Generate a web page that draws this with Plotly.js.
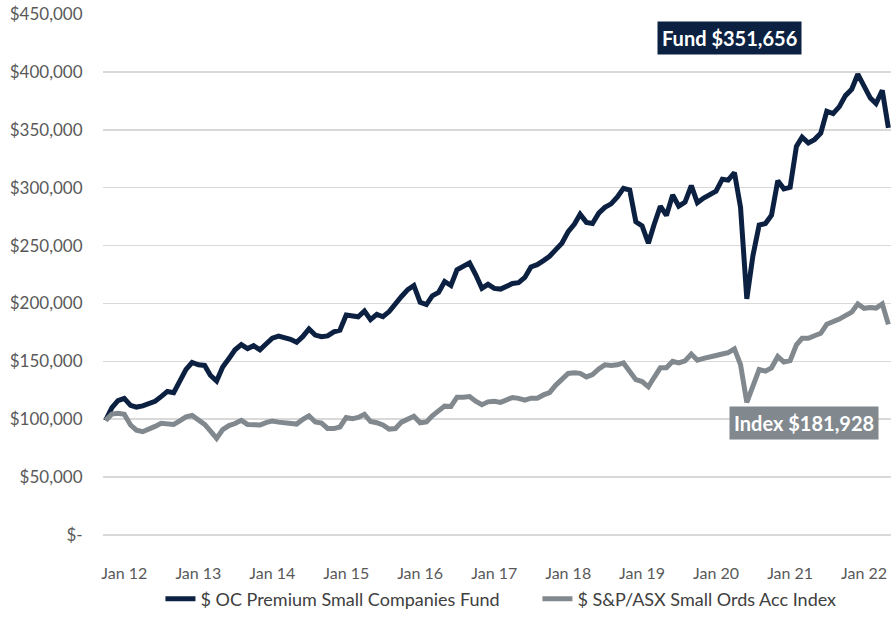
<!DOCTYPE html>
<html>
<head>
<meta charset="utf-8">
<script src="https://cdn.plot.ly/plotly-3.0.1.min.js"></script>
<style>html,body{margin:0;padding:0;background:#fff;}#chart{width:893px;height:620px;}</style>
</head>
<body>
<div id="chart"></div>
<script>
// Values in $ thousands, monthly from Oct 2011
const startYear = 2011, startMonth = 10;
const fundValues = [
 99,110,116,118,112,110.5,111.5,113.5,115.5,119.5,
 124,123,134,143,149,147,146.5,138,133,145,
 152.5,160,164.5,161,163.5,160,165,170,171.8,170.5,
 169,166.5,171.5,178,172.7,171.3,172,175.5,177,190,
 189,188.5,193.5,186,190.5,188.5,193,200,206,212,
 215.5,201,199,206.5,209.5,219,215.5,229,232,235,
 225,213,216.5,213,212.4,214.5,217.2,218,222.5,231.5,
 233.5,237,240.7,246.5,252,262,268.6,277,270,269,
 278,283,286,292,299.4,298,270.5,267,252,268,
 284,276,293.7,284,287.5,301.7,287,291,294.5,297,
 307.3,306.5,313,283,204,241,267.7,269,276.2,306,
 299,300.3,335.7,343.7,338.6,341.5,347,366,364,370,
 379.5,385,398,388,377.4,372.6,384,351.656
];
const indexValues = [
 99,104.5,105.2,104.3,95,90.5,89.2,91,93.8,96.5,
 96,95.5,98.5,102,103.2,99,95.5,90,83.5,91,
 94.5,96.3,99,95.5,95.2,95,97,98.5,97.5,96.7,
 96.7,95.8,100,103,97.6,96.7,92,91.9,93.3,101.5,
 100.5,101.5,104.2,98,97,95,91.5,92,97.5,99.5,
 102.5,96.9,97.6,103,107,111.3,111,119,119,119.6,
 115.5,112.5,115,115.5,114.5,116.3,118.8,118,116.5,118.2,
 118.2,121,123,129.5,135,139.5,140.1,139.6,136.5,138.5,
 143.5,147,146.5,147,148.6,142,134.2,132.5,128,136,
 144.4,144.4,150,148.7,150.4,156.3,151,152.5,154.2,155,
 156.3,157.5,160.8,147.2,114.6,130.1,142.9,141.5,144.4,154.2,
 149.4,150.6,164.2,169.9,169.9,172.1,174.2,182,183.8,186.5,
 189.5,192.5,199.6,195.8,196.5,196,199.6,181.928
];
const seriesNames = ['$ OC Premium Small Companies Fund', '$ S&P/ASX Small Ords Acc Index'];
const yTickValues = [0,50000,100000,150000,200000,250000,300000,350000,400000,450000];
const yTickLabels = ['$-','$50,000','$100,000','$150,000','$200,000','$250,000','$300,000','$350,000','$400,000','$450,000'];
const xTickYears = [2012,2013,2014,2015,2016,2017,2018,2019,2020,2021,2022];
const xTickLabels = ['Jan 12','Jan 13','Jan 14','Jan 15','Jan 16','Jan 17','Jan 18','Jan 19','Jan 20','Jan 21','Jan 22'];

const pad = n => (n < 10 ? '0' : '') + n;
const dates = fundValues.map((_, i) => {
  const m = startMonth - 1 + i;
  return (startYear + Math.floor(m / 12)) + '-' + pad(m % 12 + 1) + '-01';
});
const fmt = v => '$' + Math.round(v * 1000).toLocaleString('en-US');

const FUND = '#0c2141', INDEX = '#81888e';
const font = 'Lato, "Open Sans", sans-serif';

const traces = [
  {x: dates, y: fundValues.map(v => v * 1000), name: seriesNames[0], type: 'scatter', mode: 'lines',
   line: {color: FUND, width: 5}, legendwidth: 332},
  {x: dates, y: indexValues.map(v => v * 1000), name: seriesNames[1], type: 'scatter', mode: 'lines',
   line: {color: INDEX, width: 5}}
];

const layout = {
  width: 893, height: 620,
  margin: {l: 103, r: 2, t: 14, b: 77},
  paper_bgcolor: '#fff', plot_bgcolor: '#fff',
  font: {family: font, size: 16, color: '#595959'},
  showlegend: true,
  legend: {orientation: 'h', x: 0.505, xanchor: 'center', y: -0.123, yanchor: 'middle',
           itemwidth: 30,
           font: {family: font, size: 18, color: '#404040'}, traceorder: 'normal'},
  xaxis: {
    type: 'date',
    range: ['2011-09-18', '2022-05-14'],
    tickvals: xTickYears.map(y => y + '-01-01'),
    ticktext: xTickLabels,
    showgrid: false, zeroline: false, showline: false,
    ticks: 'outside', ticklen: 24, tickcolor: 'rgba(0,0,0,0)',
    tickfont: {family: font, size: 16, color: '#595959'}
  },
  yaxis: {
    range: [0, 450000],
    tickvals: yTickValues, ticktext: yTickLabels,
    showgrid: true, gridcolor: '#d9d9d9', gridwidth: 1.5,
    zeroline: true, zerolinecolor: '#d9d9d9', zerolinewidth: 1.5,
    showline: false,
    ticks: 'outside', ticklen: 16, tickcolor: 'rgba(0,0,0,0)',
    tickfont: {family: font, size: 17, color: '#595959'}
  },
  annotations: [
    {xref: 'paper', yref: 'paper', x: 0.795, y: 0.953, xanchor: 'center', yanchor: 'middle',
     text: '<b>Fund ' + fmt(fundValues[fundValues.length - 1]) + '</b>', showarrow: false,
     bgcolor: FUND, borderpad: 4, font: {family: font, size: 20, color: '#ffffff'}},
    {xref: 'paper', yref: 'paper', x: 0.8896, y: 0.2145, xanchor: 'center', yanchor: 'middle',
     text: '<b>Index ' + fmt(indexValues[indexValues.length - 1]) + '</b>', showarrow: false,
     bgcolor: INDEX, borderpad: 4, font: {family: font, size: 20, color: '#ffffff'}}
  ]
};

Plotly.newPlot('chart', traces, layout, {displayModeBar: false, staticPlot: true});
</script>
</body>
</html>
